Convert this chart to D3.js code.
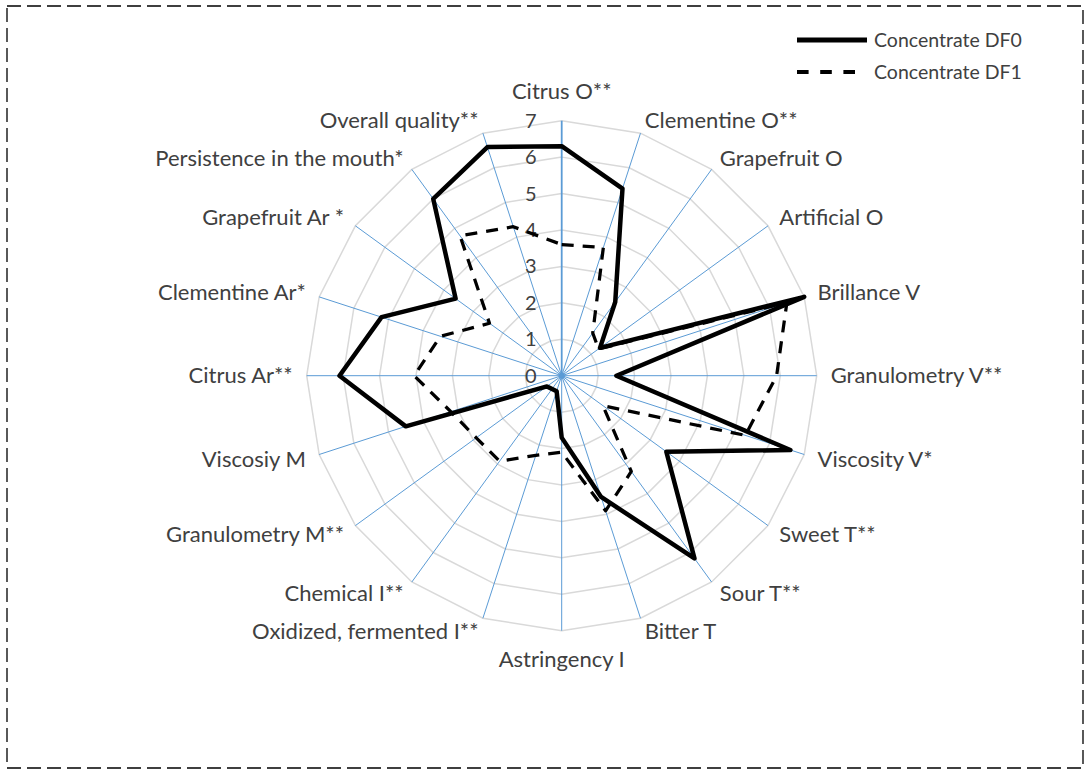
<!DOCTYPE html>
<html>
<head>
<meta charset="utf-8">
<script src="https://d3js.org/d3.v7.min.js"></script>
<style>
  body { margin: 0; background: #fff; }
  text { font-family: Lato, "Open Sans", sans-serif; fill: #404040; }
</style>
</head>
<body>
<div id="container"></div>
<script>
// sensory attributes, clockwise from the top
var attributes = ["Citrus O**", "Clementine O**", "Grapefruit O", "Artificial O", "Brillance V",
  "Granulometry V**", "Viscosity V*", "Sweet T**", "Sour T**", "Bitter T", "Astringency I",
  "Oxidized, fermented I**", "Chemical I**", "Granulometry M**", "Viscosiy M", "Citrus Ar**",
  "Clementine Ar*", "Grapefruit Ar *", "Persistence in the mouth*", "Overall quality**"];

var df0 = [6.3, 5.4, 2.5, 1.3, 7.0, 1.5, 6.6, 3.55, 6.2, 3.5, 1.7, 0.45, 0.45, 0.5, 4.5, 6.1, 5.2, 3.6, 6.0, 6.6];
var df1 = [3.6, 3.7, 1.45, 1.25, 6.5, 5.9, 5.3, 1.4, 3.25, 3.9, 2.1, 2.3, 2.9, 2.9, 3.2, 4.05, 3.5, 2.45, 4.75, 4.3];

var seriesNames = ["Concentrate DF0", "Concentrate DF1"];
var ticks = [0, 1, 2, 3, 4, 5, 6, 7];

var width = 1089, height = 773;
var cx = 561.7, cy = 375.7;
var n = attributes.length;

var r = d3.scaleLinear().domain([0, 7]).range([0, 255]);
var angle = d3.scaleLinear().domain([0, n]).range([0, 2 * Math.PI]);

var svg = d3.select("#container")
  .append("svg")
  .attr("width", width)
  .attr("height", height);

// dashed frame
svg.append("rect")
  .attr("x", 7).attr("y", 6)
  .attr("width", 1076).attr("height", 762)
  .attr("fill", "none")
  .attr("stroke", "#000")
  .attr("stroke-width", 1.3)
  .attr("stroke-dasharray", "14,6");

var g = svg.append("g").attr("transform", `translate(${cx},${cy})`);

// polygon rings
var ring = d3.lineRadial()
  .angle((d, i) => angle(i))
  .radius(d => r(d))
  .curve(d3.curveLinearClosed);

g.append("g")
    .attr("fill", "none")
    .attr("stroke", "#d9d9d9")
    .attr("stroke-width", 1.5)
  .selectAll("path")
  .data(ticks.slice(1))
  .join("path")
    .attr("d", t => ring(d3.range(n).map(() => t)));

// spokes
g.append("g")
    .attr("stroke", "#5b9bd5")
  .selectAll("line")
  .data(d3.range(n))
  .join("line")
    .attr("x1", 0).attr("y1", 0)
    .attr("x2", i => r(7) * Math.sin(angle(i)))
    .attr("y2", i => -r(7) * Math.cos(angle(i)))
    .attr("stroke-width", i => i === 0 ? 1.8 : 1);

g.append("circle").attr("r", 3).attr("fill", "#5b9bd5");

// tick labels on the vertical axis
g.append("g")
    .attr("font-size", 20)
    .attr("text-anchor", "end")
  .selectAll("text")
  .data(ticks)
  .join("text")
    .attr("x", -25)
    .attr("y", t => -r(t))
    .attr("dy", "0.35em")
    .text(t => t);

// series
var line = d3.lineRadial()
  .angle((d, i) => angle(i))
  .radius(d => r(d))
  .curve(d3.curveLinearClosed);

g.append("path")
  .attr("d", line(df1))
  .attr("fill", "none")
  .attr("stroke", "#000")
  .attr("stroke-width", 3.25)
  .attr("stroke-dasharray", "12,9")
  .attr("stroke-linejoin", "round");

g.append("path")
  .attr("d", line(df0))
  .attr("fill", "none")
  .attr("stroke", "#000")
  .attr("stroke-width", 4.5)
  .attr("stroke-linejoin", "round");

// attribute labels
var lr = r(7) + 14;
g.append("g")
    .attr("font-size", 22)
  .selectAll("text")
  .data(attributes)
  .join("text")
    .attr("x", (d, i) => lr * Math.sin(angle(i)))
    .attr("y", (d, i) => {
      var c = Math.cos(angle(i));
      var extra = Math.abs(c) > 0.99 ? -c * 15 : 0;
      return -lr * c + extra;
    })
    .attr("dy", "0.35em")
    .attr("text-anchor", (d, i) => {
      var s = Math.sin(angle(i));
      return s > 0.1 ? "start" : s < -0.1 ? "end" : "middle";
    })
    .text(d => d);

// legend
var legend = svg.append("g").attr("font-size", 19.5);
var legendRows = [
  {name: seriesNames[0], y: 40, x2: 867, w: 5, dash: null},
  {name: seriesNames[1], y: 72, x2: 855, w: 4, dash: "11.6,11.6"}
];
legend.selectAll("line")
  .data(legendRows)
  .join("line")
    .attr("x1", 797).attr("x2", d => d.x2)
    .attr("y1", d => d.y).attr("y2", d => d.y)
    .attr("stroke", "#000")
    .attr("stroke-width", d => d.w)
    .attr("stroke-dasharray", d => d.dash);
legend.selectAll("text")
  .data(legendRows)
  .join("text")
    .attr("x", 874)
    .attr("y", d => d.y)
    .attr("dy", "0.35em")
    .text(d => d.name);
</script>
</body>
</html>
